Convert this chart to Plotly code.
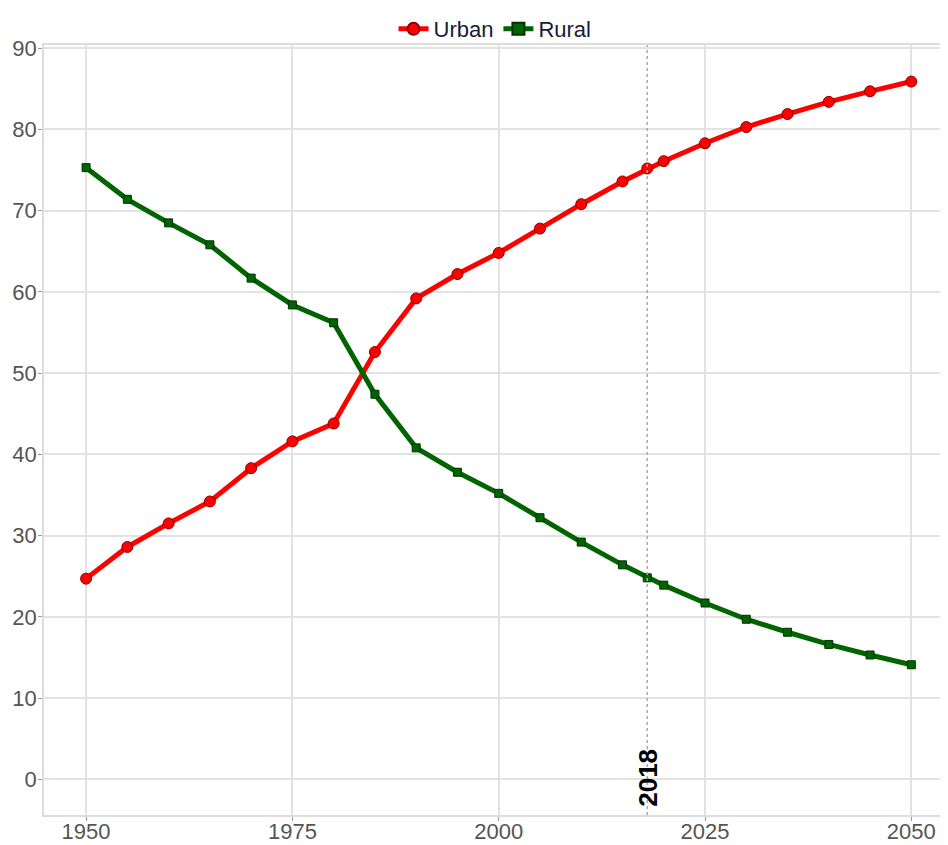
import plotly.graph_objects as go

years = [1950, 1955, 1960, 1965, 1970, 1975, 1980, 1985, 1990, 1995, 2000,
         2005, 2010, 2015, 2018, 2020, 2025, 2030, 2035, 2040, 2045, 2050]
urban = [24.7, 28.6, 31.5, 34.2, 38.3, 41.6, 43.8, 52.6, 59.2, 62.2, 64.8,
         67.8, 70.8, 73.6, 75.2, 76.1, 78.3, 80.3, 81.9, 83.4, 84.7, 85.9]
rural = [75.3, 71.4, 68.5, 65.8, 61.7, 58.4, 56.2, 47.4, 40.8, 37.8, 35.2,
         32.2, 29.2, 26.4, 24.8, 23.9, 21.7, 19.7, 18.1, 16.6, 15.3, 14.1]
x_ticks = [1950, 1975, 2000, 2025, 2050]
y_ticks = [0, 10, 20, 30, 40, 50, 60, 70, 80, 90]
marker_year = 2018

FONT = "Liberation Sans, Arial, sans-serif"

fig = go.Figure()
fig.add_trace(go.Scatter(
    x=years, y=urban, name="Urban", mode="lines+markers",
    line=dict(color="#ff0000", width=5),
    marker=dict(symbol="circle", size=11, color="#ff0000",
                line=dict(color="#8b0000", width=1)),
))
fig.add_trace(go.Scatter(
    x=years, y=rural, name="Rural", mode="lines+markers",
    line=dict(color="#006400", width=5),
    marker=dict(symbol="square", size=8, color="#006400",
                line=dict(color="#003300", width=1)),
))

fig.add_shape(type="line", x0=marker_year, x1=marker_year, y0=0, y1=1,
              xref="x", yref="paper",
              line=dict(color="#aaaaaa", width=1.5, dash="dot"))
fig.add_annotation(x=marker_year, y=-3.6, xref="x", yref="y",
                   text="<b>2018</b>", textangle=-90, showarrow=False,
                   xanchor="center", yanchor="bottom",
                   font=dict(size=26, color="#000000", family=FONT))

fig.update_layout(
    width=940, height=837,
    margin=dict(l=36, r=2, t=37, b=30, autoexpand=False),
    plot_bgcolor="white", paper_bgcolor="rgba(0,0,0,0)",
    font=dict(family=FONT, size=22, color="#555555"),
    legend=dict(orientation="h", x=0.5, xanchor="center", y=1.048, yanchor="top",
                font=dict(size=22, color="#1a1a3a"), itemwidth=30,
                bgcolor="rgba(0,0,0,0)",
                tracegroupgap=0, itemsizing="constant"),
    showlegend=True,
)
fig.update_xaxes(range=[1944.9, 2054.2], tickvals=x_ticks, automargin=False,
                 showgrid=True, gridcolor="#e2e2e2", gridwidth=1.5,
                 zeroline=False, showline=True, linecolor="#dddddd", linewidth=1.5,
                 mirror=True, ticks="outside", ticklen=4, tickcolor="#999999",
                 ticklabelstandoff=-8,
                 tickfont=dict(size=22, color="#555555"))
fig.update_yaxes(range=[-4.4, 90.4], tickvals=y_ticks, automargin=False,
                 showgrid=True, gridcolor="#e2e2e2", gridwidth=1.5,
                 zeroline=False, showline=True, linecolor="#dddddd", linewidth=1.5,
                 mirror=True, ticks="outside", ticklen=4, tickcolor="#999999",
                 ticklabelstandoff=-3,
                 tickfont=dict(size=22, color="#555555"))

fig.write_html("out.html")
